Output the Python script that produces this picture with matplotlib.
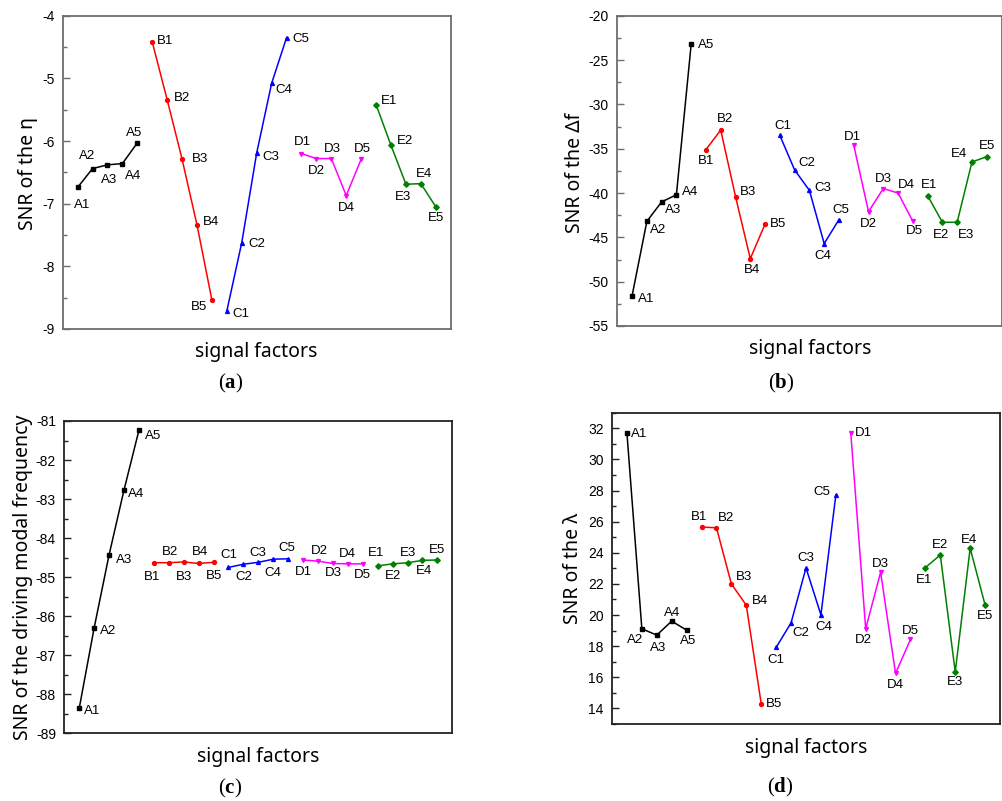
import matplotlib
matplotlib.use("Agg")
import matplotlib.pyplot as plt

plt.rcParams['mathtext.fontset'] = 'custom'
plt.rcParams['mathtext.rm'] = 'Liberation Serif'
plt.rcParams['mathtext.bf'] = 'Liberation Serif:bold'
plt.rcParams['axes.unicode_minus'] = False

# data
groups = ['A', 'B', 'C', 'D', 'E']
levels = [1, 2, 3, 4, 5]

eta_A = [-6.74, -6.44, -6.38, -6.36, -6.03]
eta_B = [-4.42, -5.34, -6.29, -7.34, -8.54]
eta_C = [-8.71, -7.62, -6.19, -5.08, -4.35]
eta_D = [-6.20, -6.28, -6.28, -6.87, -6.29]
eta_E = [-5.42, -6.07, -6.69, -6.68, -7.05]

df_A = [-51.6, -43.2, -41.0, -40.2, -23.2]
df_B = [-35.1, -32.9, -40.4, -47.4, -43.5]
df_C = [-33.5, -37.4, -39.7, -45.7, -43.0]
df_D = [-34.6, -42.1, -39.5, -40.0, -43.2]
df_E = [-40.3, -43.3, -43.3, -36.5, -35.9]

fr_A = [-88.36, -86.30, -84.43, -82.77, -81.24]
fr_B = [-84.63, -84.63, -84.61, -84.65, -84.62]
fr_C = [-84.75, -84.67, -84.62, -84.54, -84.53]
fr_D = [-84.56, -84.59, -84.65, -84.66, -84.66]
fr_E = [-84.71, -84.66, -84.63, -84.57, -84.56]

lam_A = [31.70, 19.12, 18.71, 19.61, 19.03]
lam_B = [25.65, 25.61, 22.00, 20.63, 14.29]
lam_C = [17.92, 19.50, 23.03, 20.01, 27.71]
lam_D = [31.70, 19.12, 22.75, 16.25, 18.43]
lam_E = [23.05, 23.86, 16.34, 24.29, 20.65]

ylabels = ['SNR of the η', 'SNR of the Δf',
           'SNR of the driving modal frequency', 'SNR of the λ']
captions = ['a', 'b', 'c', 'd']

# label offsets (points) for each point label, per panel
off_a = [(3, -13), (-4, 9), (1, -11), (8, -9), (-2, 7),
         (9, 1), (11, 1), (13, 0), (10, 2), (-9, -5),
         (10, -2), (11, -1), (10, -3), (9, -5), (10, -1),
         (1, 8), (0, -9), (1, 7), (0, -9), (1, 7),
         (9, 3), (10, 3), (-2, -9), (2, 7), (0, -8)]
off_b = [(10, -2), (8, -6), (8, -6), (10, 2), (11, -1),
         (0, -8), (3, 8), (9, 3), (1, -8), (9, 0),
         (2, 7), (9, 5), (10, 2), (-1, -9), (1, 7),
         (-1, 6), (0, -9), (0, 7), (6, 6), (1, -7),
         (1, 8), (-1, -9), (6, -9), (-9, 6), (0, 8)]
off_c = [(9, -2), (10, -2), (11, -4), (9, -3), (10, -4),
         (-1, -10), (1, 8), (0, -11), (1, 8), (0, -10),
         (0, 9), (0, -9), (0, 7), (0, -10), (-1, 8),
         (0, -9), (1, 7), (0, -7), (0, 7), (0, -8),
         (-1, 9), (0, -9), (0, 7), (1, -8), (0, 7)]
off_d = [(9, -1), (-5, -8), (1, -9), (0, 6), (1, -8),
         (-2, 7), (7, 7), (9, 5), (10, 3), (9, 0),
         (0, -9), (7, -7), (0, 7), (2, -9), (-10, 2),
         (9, 0), (-2, -8), (0, 6), (0, -8), (0, 6),
         (-1, -9), (0, 7), (0, -7), (-1, 6), (0, -8)]

colors = ['black', '#ff0000', '#0000ff', '#ff00ff', '#008000']
markers = ['s', 'o', '^', 'v', 'D']

panels = [
    dict(series=[eta_A, eta_B, eta_C, eta_D, eta_E], offs=off_a,
         rect=(62.7, 15.7, 450.7, 329), ylim=(-9, -4), major=1, minor=0.5,
         frame='#6e6e6e', ylab=(28, 173), xlab=(256, 352), cap=(231, 383)),
    dict(series=[df_A, df_B, df_C, df_D, df_E], offs=off_b,
         rect=(617.3, 15.7, 1001.5, 326), ylim=(-55, -20), major=5, minor=2.5,
         frame='#6e6e6e', ylab=(575, 173), xlab=(810, 349), cap=(781, 383)),
    dict(series=[fr_A, fr_B, fr_C, fr_D, fr_E], offs=off_c,
         rect=(64.3, 421, 452.3, 733.3), ylim=(-89, -81), major=1, minor=0.5,
         frame='#222222', ylab=(23, 577), xlab=(258, 757), cap=(230, 788)),
    dict(series=[lam_A, lam_B, lam_C, lam_D, lam_E], offs=off_d,
         rect=(612, 412.7, 1000, 724), ylim=(13, 33), major=2, minor=1,
         frame='#222222', ylab=(573, 568), xlab=(806, 748), cap=(780, 787)),
]

W, H = 1003, 801
fig = plt.figure(figsize=(W / 100, H / 100), dpi=100)

for p, ylab, cap in zip(panels, ylabels, captions):
    x0, y0, x1, y1 = p['rect']
    ax = fig.add_axes([x0 / W, 1 - y1 / H, (x1 - x0) / W, (y1 - y0) / H])
    k = 0
    for gi, (g, vals) in enumerate(zip(groups, p['series'])):
        xs = [gi * 5 + lv for lv in levels]
        ax.plot(xs, vals, color=colors[gi], marker=markers[gi],
                markersize=2.8, linewidth=1.1)
        for lv, x, v in zip(levels, xs, vals):
            ax.annotate(f'{g}{lv}', (x, v), xytext=p['offs'][k],
                        textcoords='offset points', ha='center', va='center',
                        fontsize=9.5, family='Liberation Sans')
            k += 1
    ax.set_xlim(0, 26)
    ax.set_ylim(*p['ylim'])
    ax.set_xticks([])
    ax.yaxis.set_major_locator(matplotlib.ticker.MultipleLocator(p['major']))
    ax.yaxis.set_minor_locator(matplotlib.ticker.MultipleLocator(p['minor']))
    ax.tick_params(axis='y', which='major', direction='in', length=5,
                   width=1, color=p['frame'], labelsize=10, pad=6)
    ax.tick_params(axis='y', which='minor', direction='in', length=3,
                   width=1, color=p['frame'])
    for lab in ax.get_yticklabels():
        lab.set_family('Liberation Sans')
    for s in ax.spines.values():
        s.set_color(p['frame'])
        s.set_linewidth(1.3)
    fig.text(p['ylab'][0] / W, 1 - p['ylab'][1] / H, ylab, rotation=90,
             ha='center', va='center', fontsize=14,
             family=['Noto Sans', 'DejaVu Sans'])
    fig.text(p['xlab'][0] / W, 1 - p['xlab'][1] / H, 'signal factors',
             ha='center', va='center', fontsize=14,
             family=['Noto Sans', 'DejaVu Sans'])
    fig.text(p['cap'][0] / W, 1 - p['cap'][1] / H, r'($\mathbf{%s}$)' % cap,
             ha='center', va='center', fontsize=15, family='Liberation Serif')

fig.savefig('out.png', dpi=100)
